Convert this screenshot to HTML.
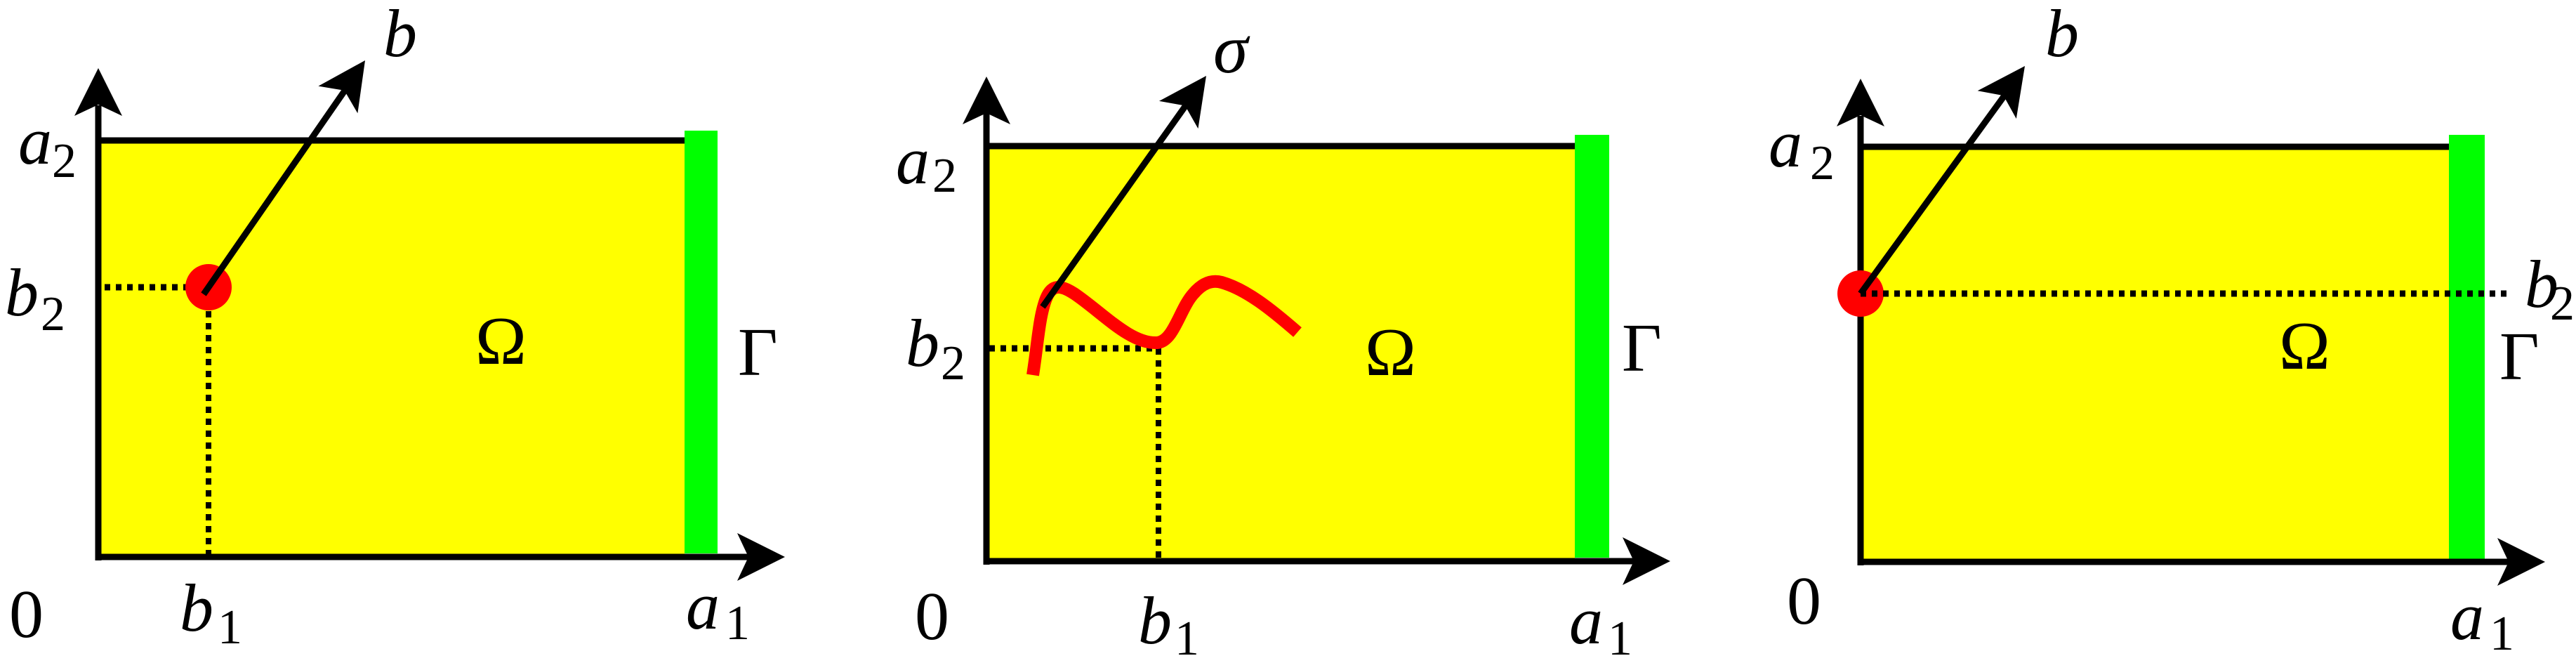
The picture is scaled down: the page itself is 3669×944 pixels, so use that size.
<!DOCTYPE html>
<html><head><meta charset="utf-8"><style>
html,body{margin:0;padding:0;background:#fff;}
svg{display:block;}
</style></head><body>
<svg width="3669" height="944" viewBox="0 0 3669 944" xmlns="http://www.w3.org/2000/svg" font-family="'Liberation Serif', 'Times New Roman', serif">
<defs>
<polygon id="ah" points="0,0 -68,-34 -52,0 -68,34" fill="#000"/>
</defs>
<g font-family="Liberation Serif, serif">

<!-- Panel 1 -->
<rect x="140" y="200" width="835" height="593" fill="#ffff00"/>
<rect x="975" y="186" width="47" height="602" fill="#00ff00"/>
<line x1="140" y1="200" x2="975" y2="200" stroke="#000" stroke-width="9"/>
<line x1="140" y1="798" x2="140" y2="150" stroke="#000" stroke-width="9"/>
<use href="#ah" transform="translate(140,97) rotate(-90)"/>
<line x1="136" y1="793" x2="1066" y2="793" stroke="#000" stroke-width="9"/>
<use href="#ah" transform="translate(1118,793)"/>
<line x1="149" y1="409" x2="297" y2="409" stroke="#000" stroke-width="9" stroke-dasharray="8,8"/>
<line x1="297" y1="409" x2="297" y2="797" stroke="#000" stroke-width="8" stroke-dasharray="9,8"/>
<ellipse cx="297" cy="409" rx="33" ry="33" fill="#ff0000"/>
<line x1="290" y1="419" x2="491" y2="129" stroke="#000" stroke-width="9"/>
<use href="#ah" transform="translate(520,86) rotate(-55.4)"/>
<text font-style="italic" x="546" y="80" font-size="96">b</text>
<text font-style="italic" x="26" y="233" font-size="96">a</text><text x="74" y="252" font-size="70">2</text>
<text font-style="italic" x="7" y="449" font-size="96">b</text><text x="58" y="470" font-size="70">2</text>
<text x="677" y="518" font-size="98">Ω</text>
<text x="1051" y="534" font-size="98">Γ</text>
<text x="13" y="907" font-size="98">0</text>
<text font-style="italic" x="256" y="898" font-size="96">b</text><text x="310" y="916" font-size="70">1</text>
<text font-style="italic" x="977" y="895" font-size="96">a</text><text x="1033" y="910" font-size="70">1</text>

<!-- Panel 2 -->
<rect x="1405" y="208" width="838" height="590" fill="#ffff00"/>
<rect x="2243" y="192" width="49" height="602" fill="#00ff00"/>
<line x1="1405" y1="208" x2="2243" y2="208" stroke="#000" stroke-width="9"/>
<line x1="1405" y1="804" x2="1405" y2="160" stroke="#000" stroke-width="9"/>
<use href="#ah" transform="translate(1405,109) rotate(-90)"/>
<line x1="1401" y1="799" x2="2327" y2="799" stroke="#000" stroke-width="9"/>
<use href="#ah" transform="translate(2379,799)"/>
<line x1="1409" y1="496" x2="1651" y2="496" stroke="#000" stroke-width="9" stroke-dasharray="8,8"/>
<line x1="1650" y1="496" x2="1650" y2="797" stroke="#000" stroke-width="8" stroke-dasharray="9,8"/>
<path d="M1471,534 C1478,490 1480,450 1490,425 C1498,405 1510,405 1530,418 C1570,445 1610,490 1648,488 C1672,486 1680,440 1700,418 C1712,404 1725,398 1740,402 C1775,412 1810,440 1848,473" fill="none" stroke="#ff0000" stroke-width="18"/>
<line x1="1485" y1="437" x2="1689" y2="150" stroke="#000" stroke-width="9"/>
<use href="#ah" transform="translate(1718,108) rotate(-54.7)"/>
<text font-style="italic" x="1728" y="103" font-size="100">σ</text>
<text font-style="italic" x="1276" y="261" font-size="96">a</text><text x="1328" y="273" font-size="70">2</text>
<text font-style="italic" x="1290" y="521" font-size="96">b</text><text x="1340" y="540" font-size="70">2</text>
<text x="1944" y="534" font-size="98">Ω</text>
<text x="2310" y="528" font-size="98">Γ</text>
<text x="1303" y="910" font-size="98">0</text>
<text font-style="italic" x="1621" y="916" font-size="96">b</text><text x="1673" y="932" font-size="70">1</text>
<text font-style="italic" x="2235" y="916" font-size="96">a</text><text x="2290" y="932" font-size="70">1</text>

<!-- Panel 3 -->
<rect x="2650" y="209" width="838" height="591" fill="#ffff00"/>
<rect x="3488" y="192" width="51" height="604" fill="#00ff00"/>
<line x1="2650" y1="209" x2="3488" y2="209" stroke="#000" stroke-width="9"/>
<line x1="2650" y1="805" x2="2650" y2="165" stroke="#000" stroke-width="9"/>
<use href="#ah" transform="translate(2650,112) rotate(-90)"/>
<line x1="2646" y1="800" x2="3573" y2="800" stroke="#000" stroke-width="9"/>
<use href="#ah" transform="translate(3625,800)"/>
<ellipse cx="2650" cy="418" rx="33" ry="33" fill="#ff0000"/>
<line x1="2650" y1="418" x2="3570" y2="418" stroke="#000" stroke-width="9" stroke-dasharray="8,8"/>
<line x1="2650" y1="418" x2="2855" y2="136" stroke="#000" stroke-width="9"/>
<use href="#ah" transform="translate(2884,94) rotate(-54.2)"/>
<text font-style="italic" x="2913" y="80" font-size="96">b</text>
<text font-style="italic" x="2519" y="237" font-size="96">a</text><text x="2578" y="255" font-size="70">2</text>
<text font-style="italic" x="3596" y="437" font-size="96">b</text><text x="3632" y="455" font-size="70">2</text>
<text x="3246" y="525" font-size="98">Ω</text>
<text x="3560" y="540" font-size="98">Γ</text>
<text x="2545" y="888" font-size="98">0</text>
<text font-style="italic" x="3490" y="910" font-size="96">a</text><text x="3546" y="925" font-size="70">1</text>
</g>
</svg>
</body></html>
